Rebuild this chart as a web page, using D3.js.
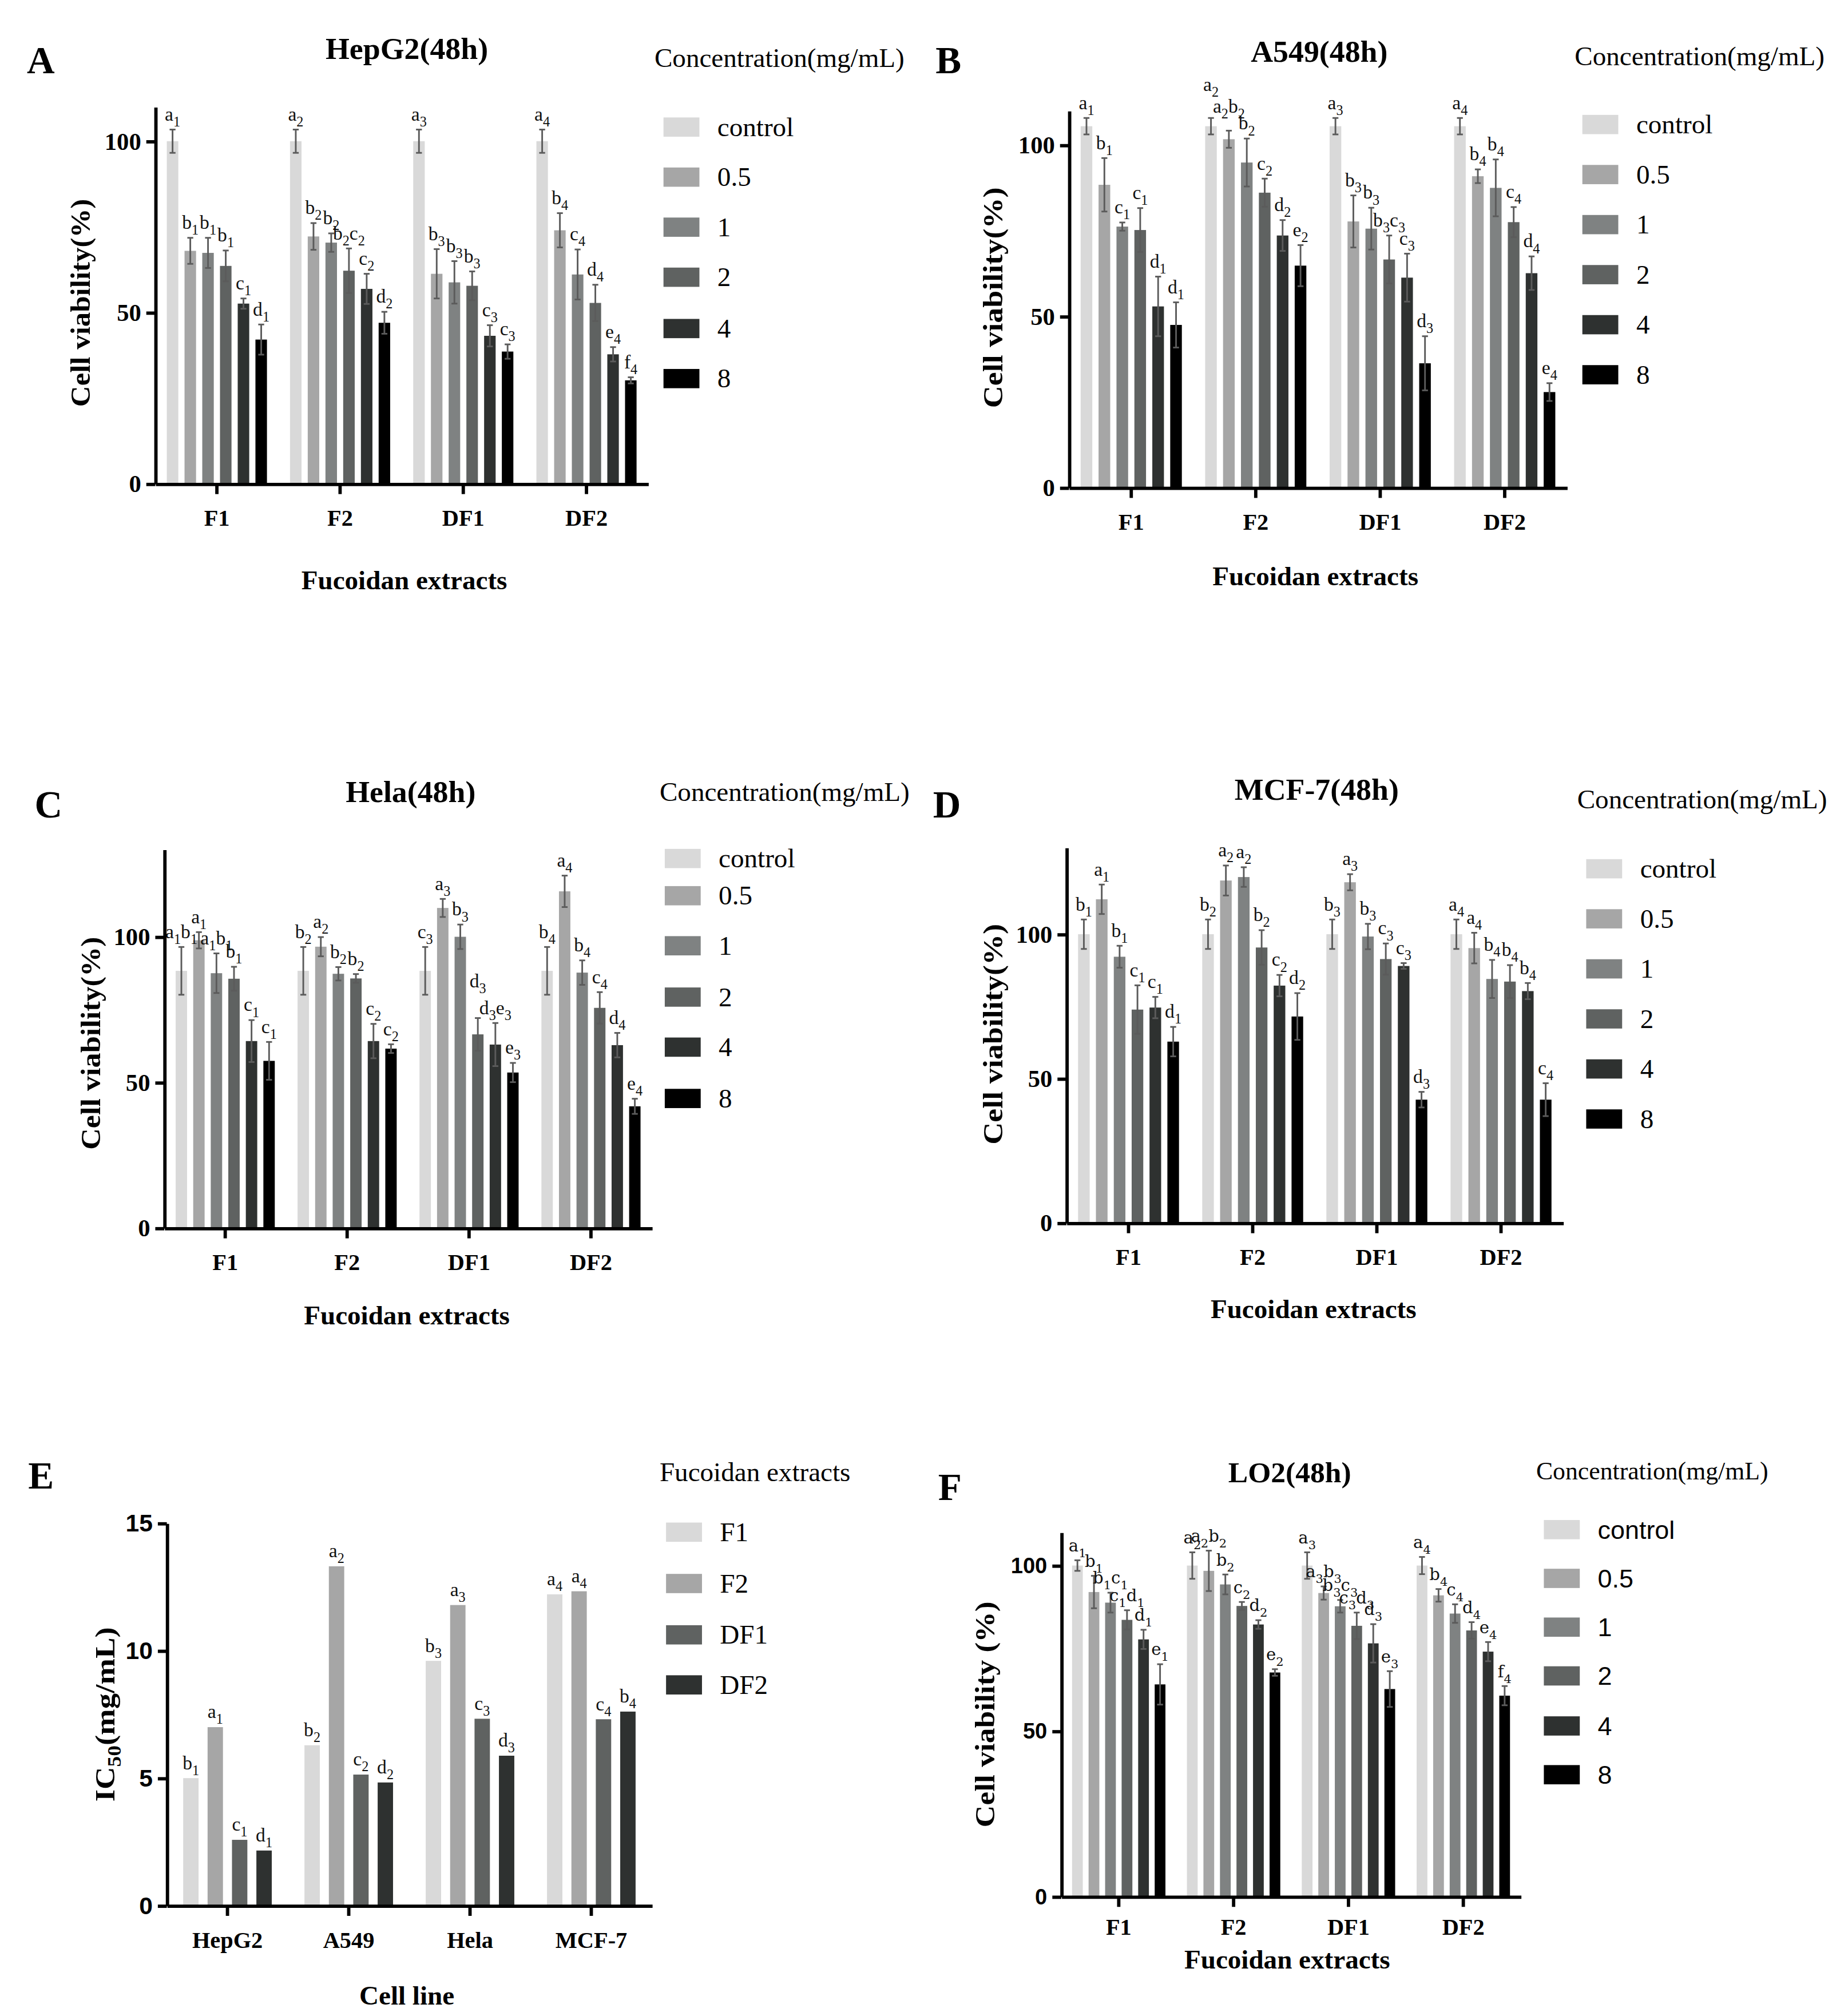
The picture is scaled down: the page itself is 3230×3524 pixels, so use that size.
<!DOCTYPE html>
<html>
<head>
<meta charset="utf-8">
<script src="https://cdn.jsdelivr.net/npm/d3@7"></script>
<style>
  body { margin: 0; background: #fff; }
</style>
</head>
<body>
<div id="chart"></div>
<script>
// ---- data ----
const extracts = ["F1", "F2", "DF1", "DF2"];
const concentrations = ["control", "0.5", "1", "2", "4", "8"];
const cellLines = ["HepG2", "A549", "Hela", "MCF-7"];
const viabilityTicks = [0, 50, 100];
const ic50Ticks = [0, 5, 10, 15];

// rows = extracts, columns = concentrations
const hepg2Mean = [[100, 68, 67.4, 63.6, 52.6, 42.1], [100, 72.2, 70.4, 62.2, 56.9, 47], [100, 61.3, 58.8, 57.8, 43.2, 38.6], [100, 74, 61.1, 52.8, 37.8, 30.2]];
const hepg2Sd = [[3.4, 3.8, 4.4, 4.5, 1.5, 4.4], [3.4, 3.9, 2.7, 6.5, 4.4, 3.2], [3.4, 7.2, 6.2, 4.2, 3.1, 2.1], [3.4, 5, 7.3, 5.3, 2.1, 0.9]];
const hepg2Sig = [["a1", "b1", "b1", "b1", "c1", "d1"], ["a2", "b2", "b2", "b2c2", "c2", "d2"], ["a3", "b3", "b3", "b3", "c3", "c3"], ["a4", "b4", "c4", "d4", "e4", "f4"]];

const a549Mean = [[105.5, 88.4, 76.2, 75.2, 52.9, 47.5], [105.5, 101.7, 94.9, 86.1, 73.6, 64.8], [105.5, 77.7, 75.6, 66.6, 61.3, 36.3], [105.5, 90.9, 87.5, 77.5, 62.6, 27.9]];
const a549Sd = [[2.4, 7.8, 1.2, 6.4, 8.7, 6.6], [2.4, 2.5, 7, 4.1, 4.5, 6], [2.4, 7.6, 6.1, 7, 7, 7.9], [2.4, 2, 8.3, 4.4, 4.9, 2.6]];
const a549Sig = [["a1", "b1", "c1", "c1", "d1", "d1"], ["a2", "a2b2", "b2", "c2", "d2", "e2"], ["a3", "b3", "b3", "b3c3", "c3", "d3"], ["a4", "b4", "b4", "c4", "d4", "e4"]];

const helaMean = [[88.3, 98.8, 87.5, 85.6, 64.2, 57.4], [88.3, 96.6, 87.3, 85.7, 64.2, 61.6], [88.3, 109.9, 100, 66.5, 63, 53.4], [88.3, 115.6, 87.7, 75.6, 62.8, 41.8]];
const helaSd = [[8.2, 2.8, 6.8, 4.1, 7.2, 6.5], [8.2, 3.3, 2.3, 1.5, 5.9, 1.5], [8.2, 3.1, 4.2, 5.6, 7.4, 3.3], [8.2, 5.4, 4.2, 5.4, 4.2, 2.6]];
const helaSig = [["a1b1", "a1", "a1b1", "b1", "c1", "c1"], ["b2", "a2", "b2", "b2", "c2", "c2"], ["c3", "a3", "b3", "d3", "d3e3", "e3"], ["b4", "a4", "b4", "c4", "d4", "e4"]];

const mcf7Mean = [[100, 112.1, 92.2, 73.9, 74.6, 62.8], [100, 118.6, 119.8, 95.4, 82.2, 71.5], [100, 118, 99.2, 91.4, 89, 42.7], [100, 95.2, 84.5, 83.6, 80.3, 42.7]];
const mcf7Sd = [[5.1, 5.1, 3.8, 8.4, 3.7, 5.1], [5.1, 5.2, 3.4, 6, 3.7, 8.1], [5.1, 2.8, 4.4, 5.4, 1, 2.7], [5.1, 5.3, 6.6, 5.7, 2.8, 5.7]];
const mcf7Sig = [["b1", "a1", "b1", "c1", "c1", "d1"], ["b2", "a2", "a2", "b2", "c2", "d2"], ["b3", "a3", "b3", "c3", "c3", "d3"], ["a4", "a4", "b4", "b4", "b4", "c4"]];

const lo2Mean = [[100, 92, 88.8, 83.6, 77.7, 64.1], [100, 98.4, 94.3, 87.8, 82.2, 67.7], [100, 91.7, 87.7, 81.8, 76.5, 62.7], [100, 91, 85.5, 80.4, 74, 60.7]];
const lo2Sd = [[1.6, 4.9, 3, 2.9, 2.9, 6.1], [4, 6.1, 3, 1.2, 1.3, 1], [4, 2, 1.9, 4, 5.8, 5.4], [2.6, 1.9, 2.8, 2.5, 2.9, 2.9]];
const lo2Sig = [["a1", "b1", "b1c1", "c1d1", "d1", "e1"], ["a2", "a2b2", "b2", "c2", "d2", "e2"], ["a3", "a3b3", "b3c3", "c3d3", "d3", "e3"], ["a4", "b4", "c4", "d4", "e4", "f4"]];

// rows = cell lines, columns = extracts
const ic50Values = [[5.0, 7.0, 2.58, 2.16], [6.29, 13.31, 5.14, 4.83], [9.6, 11.79, 7.33, 5.88], [12.21, 12.33, 7.31, 7.61]];
const ic50Sig = [["b1", "a1", "c1", "d1"], ["b2", "a2", "c2", "d2"], ["b3", "a3", "c3", "d3"], ["a4", "a4", "c4", "b4"]];

const concColors = ["#d9d9d9", "#a6a6a6", "#7f8282", "#5f6261", "#2e3130", "#000000"];
const extractColors = ["#d9d9d9", "#a6a6a6", "#5f6261", "#2e3130"];

// ---- drawing ----
const serif = "'Liberation Serif', 'Times New Roman', serif";
const sans = "'Liberation Sans', Arial, sans-serif";

const svg = d3.select("#chart")
    .append("svg")
        .attr("width", 3230)
        .attr("height", 3524)
        .attr("viewBox", "0 0 1440 1571")
        .style("background", "#ffffff");

// letters like "b2c2" -> b with subscript 2, c with subscript 2
const addSig = (g, x, y, str, size, font) => {
    const t = g.append("text")
        .attr("x", x)
        .attr("y", y)
        .attr("text-anchor", "middle")
        .style("font-family", font)
        .style("font-size", size + "px")
        .style("fill", "#111");
    let shifted = false;
    for (const m of str.matchAll(/([a-z])(\d)/g)) {
        t.append("tspan").attr("dy", shifted ? -4.5 : 0).text(m[1]);
        t.append("tspan").attr("dy", 4.5).style("font-size", (size * 0.72) + "px").text(m[2]);
        shifted = true;
    }
};

const drawPanel = (p) => {
    const g = svg.append("g");

    const k = (p.y0 - p.yRefPx) / p.yRefVal;
    const y = d3.scaleLinear()
        .domain([0, p.yMax])
        .range([p.y0, p.y0 - k * p.yMax]);

    const x0 = d3.scaleBand()
        .domain(p.groups)
        .range([p.left, p.right]);

    const x1 = d3.scaleBand()
        .domain(p.series)
        .range([0, x0.bandwidth()])
        .paddingInner(p.pin)
        .paddingOuter(p.pout);

    const rows = [];
    p.groups.forEach((grp, i) => {
        p.series.forEach((s, j) => {
            const lift = (p.lifts || []).find(l => l[0] === i && l[1] === j);
            rows.push({
                grp, s, j,
                v: p.mean[i][j],
                sd: p.sd ? p.sd[i][j] : 0,
                sig: p.sig[i][j],
                lift: lift ? lift[2] : 0
            });
        });
    });

    // bars
    g.selectAll("rect.bar")
        .data(rows)
        .join("rect")
            .attr("class", "bar")
            .attr("x", d => x0(d.grp) + x1(d.s))
            .attr("y", d => y(d.v))
            .attr("width", x1.bandwidth())
            .attr("height", d => p.y0 - y(d.v))
            .attr("fill", d => p.colors[d.j]);

    // error bars
    if (p.sd) {
        const eb = g.selectAll("g.err")
            .data(rows)
            .join("g")
                .attr("class", "err")
                .attr("transform", d => `translate(${x0(d.grp) + x1(d.s) + x1.bandwidth() / 2},0)`)
                .style("stroke", "#5b5b5b")
                .style("stroke-width", 1.3);
        eb.append("line")
            .attr("y1", d => y(d.v - d.sd))
            .attr("y2", d => y(d.v + d.sd));
        eb.append("line")
            .attr("x1", -2.3).attr("x2", 2.3)
            .attr("y1", d => y(d.v + d.sd))
            .attr("y2", d => y(d.v + d.sd));
        eb.append("line")
            .attr("x1", -2.3).attr("x2", 2.3)
            .attr("y1", d => y(d.v - d.sd))
            .attr("y2", d => y(d.v - d.sd));
    }

    // significance letters
    rows.forEach(d => {
        addSig(g, x0(d.grp) + x1(d.s) + x1.bandwidth() / 2,
            y(d.v + d.sd) - 7 - d.lift, d.sig, p.sigSize, p.sigFont);
    });

    // axes
    const yAxis = g.append("g")
        .attr("transform", `translate(${p.left},0)`)
        .call(d3.axisLeft(y).tickValues(p.yTicks).tickSize(7).tickSizeOuter(0).tickPadding(4));
    yAxis.selectAll("text")
        .style("font-family", p.yTickFont)
        .style("font-size", p.yTickSize + "px")
        .style("font-weight", "bold")
        .style("fill", "#000");

    const xAxis = g.append("g")
        .attr("transform", `translate(0,${p.y0})`)
        .call(d3.axisBottom(x0).tickSize(8).tickSizeOuter(0).tickPadding(p.xPad));
    xAxis.selectAll("text")
        .style("font-family", serif)
        .style("font-size", "18px")
        .style("font-weight", "bold")
        .style("fill", "#000");

    g.selectAll(".domain, .tick line")
        .style("stroke", "#000")
        .style("stroke-width", 2.6);

    // title and panel letter
    if (p.title) {
        g.append("text")
            .attr("x", p.titleX).attr("y", p.titleY)
            .attr("text-anchor", "middle")
            .style("font-family", serif)
            .style("font-weight", "bold")
            .style("font-size", p.titleSize + "px")
            .text(p.title);
    }
    g.append("text")
        .attr("x", p.letterX).attr("y", p.letterY)
        .style("font-family", serif)
        .style("font-weight", "bold")
        .style("font-size", "30px")
        .text(p.letter);

    // axis titles
    g.append("text")
        .attr("x", (p.left + p.right) / 2 + p.xLabelDx).attr("y", p.xLabelY)
        .attr("text-anchor", "middle")
        .style("font-family", serif)
        .style("font-weight", "bold")
        .style("font-size", "21px")
        .text(p.xLabel);

    const yl = g.append("text")
        .attr("transform", `translate(${p.yLabelX},${p.yLabelY}) rotate(-90)`)
        .attr("text-anchor", "middle")
        .attr("textLength", p.yLabelLen)
        .attr("lengthAdjust", "spacingAndGlyphs")
        .style("font-family", serif)
        .style("font-weight", "bold")
        .style("font-size", "22px");
    if (p.yLabelSub) {
        yl.append("tspan").text(p.yLabel[0]);
        yl.append("tspan").attr("dy", 5).style("font-size", "15px").text(p.yLabel[1]);
        yl.append("tspan").attr("dy", -5).text(p.yLabel[2]);
    } else {
        yl.text(p.yLabel);
    }

    // legend
    const lg = g.append("g");
    lg.append("text")
        .attr("x", p.legX).attr("y", p.legTitleY)
        .style("font-family", serif)
        .style("font-size", p.legTitleSize + "px")
        .text(p.legTitle);
    p.series.forEach((s, j) => {
        lg.append("rect")
            .attr("x", p.swX)
            .attr("y", p.legRows[j] - 7.5)
            .attr("width", 28)
            .attr("height", 15)
            .attr("fill", p.colors[j]);
        lg.append("text")
            .attr("x", p.swX + 42)
            .attr("y", p.legRows[j] + 7)
            .style("font-family", p.legFont)
            .style("font-size", p.legSize + "px")
            .text(s);
    });
};

const base = {
    groups: extracts,
    series: concentrations,
    colors: concColors,
    pin: 0.35, pout: 0.65,
    yTicks: viabilityTicks,
    yTickFont: serif, yTickSize: 19,
    sigSize: 15, sigFont: serif,
    titleSize: 24,
    xPad: 12,
    xLabel: "Fucoidan extracts", xLabelDx: 0,
    yLabel: "Cell viability(%)",
    legTitle: "Concentration(mg/mL)", legTitleSize: 21,
    legFont: serif, legSize: 21
};

// A - HepG2
drawPanel({...base,
    mean: hepg2Mean, sd: hepg2Sd, sig: hepg2Sig,
    left: 121, right: 505, y0: 377, yRefPx: 110, yRefVal: 100, yMax: 110,
    title: "HepG2(48h)", titleX: 317, titleY: 46,
    letter: "A", letterX: 21, letterY: 57,
    xLabelY: 459, xLabelDx: 2,
    yLabelX: 70, yLabelY: 236, yLabelLen: 162,
    legX: 510, legTitleY: 52, swX: 517, legRows: [99, 138, 177, 216, 256, 295]
});

// B - A549
drawPanel({...base,
    mean: a549Mean, sd: a549Sd, sig: a549Sig,
    left: 833, right: 1221, y0: 380, yRefPx: 113, yRefVal: 100, yMax: 110,
    lifts: [[1, 0, 14], [1, 1, 7]],
    title: "A549(48h)", titleX: 1028, titleY: 48,
    letter: "B", letterX: 729, letterY: 57,
    xLabelY: 456, xLabelDx: -2,
    yLabelX: 781, yLabelY: 232, yLabelLen: 172,
    legX: 1227, legTitleY: 51, swX: 1233, legRows: [97, 136, 175, 214, 253, 292]
});

// C - Hela
drawPanel({...base,
    mean: helaMean, sd: helaSd, sig: helaSig,
    left: 128, right: 508, y0: 957, yRefPx: 730, yRefVal: 100, yMax: 130,
    lifts: [[2, 3, 17]],
    title: "Hela(48h)", titleX: 320, titleY: 625,
    letter: "C", letterX: 27, letterY: 637,
    xLabelY: 1032, xLabelDx: -1,
    yLabelX: 78, yLabelY: 813, yLabelLen: 166,
    legX: 514, legTitleY: 624, swX: 518, legRows: [669, 698, 737, 777, 816, 856]
});

// D - MCF-7
drawPanel({...base,
    mean: mcf7Mean, sd: mcf7Sd, sig: mcf7Sig,
    left: 831, right: 1218, y0: 953, yRefPx: 728, yRefVal: 100, yMax: 130,
    title: "MCF-7(48h)", titleX: 1026, titleY: 623,
    letter: "D", letterX: 727, letterY: 637,
    xLabelY: 1027, xLabelDx: -1,
    yLabelX: 781, yLabelY: 806, yLabelLen: 172,
    legX: 1229, legTitleY: 630, swX: 1236, legRows: [677, 716, 755, 794, 833, 872]
});

// E - IC50
drawPanel({...base,
    groups: cellLines, series: extracts, colors: extractColors,
    pin: 0.37, pout: 0.67,
    mean: ic50Values, sd: null, sig: ic50Sig,
    left: 130, right: 508, y0: 1485, yRefPx: 1187, yRefVal: 15, yMax: 15,
    yTicks: ic50Ticks, yTickFont: sans, yTickSize: 19,
    title: null,
    letter: "E", letterX: 22, letterY: 1160,
    xLabel: "Cell line", xLabelY: 1562, xLabelDx: -2,
    yLabel: ["IC", "50", "(mg/mL)"], yLabelSub: true,
    yLabelX: 89, yLabelY: 1336, yLabelLen: 136,
    legTitle: "Fucoidan extracts",
    legX: 514, legTitleY: 1154, swX: 519, legRows: [1194, 1234, 1274, 1313]
});

// F - LO2
drawPanel({...base,
    mean: lo2Mean, sd: lo2Sd, sig: lo2Sig,
    left: 827, right: 1185, y0: 1478, yRefPx: 1220, yRefVal: 100, yMax: 110,
    yTickFont: sans, yTickSize: 17,
    sigSize: 13, sigFont: "'DejaVu Serif', serif",
    xPad: 9,
    title: "LO2(48h)", titleX: 1005, titleY: 1155, titleSize: 23,
    letter: "F", letterX: 731, letterY: 1169,
    xLabelY: 1534, xLabelDx: -3,
    yLabel: "Cell viability (%)",
    yLabelX: 775, yLabelY: 1336, yLabelLen: 176,
    legTitleSize: 19.5, legFont: sans, legSize: 20,
    legX: 1197, legTitleY: 1153, swX: 1203, legRows: [1192, 1230, 1268, 1306, 1345, 1383]
});
</script>
</body>
</html>
